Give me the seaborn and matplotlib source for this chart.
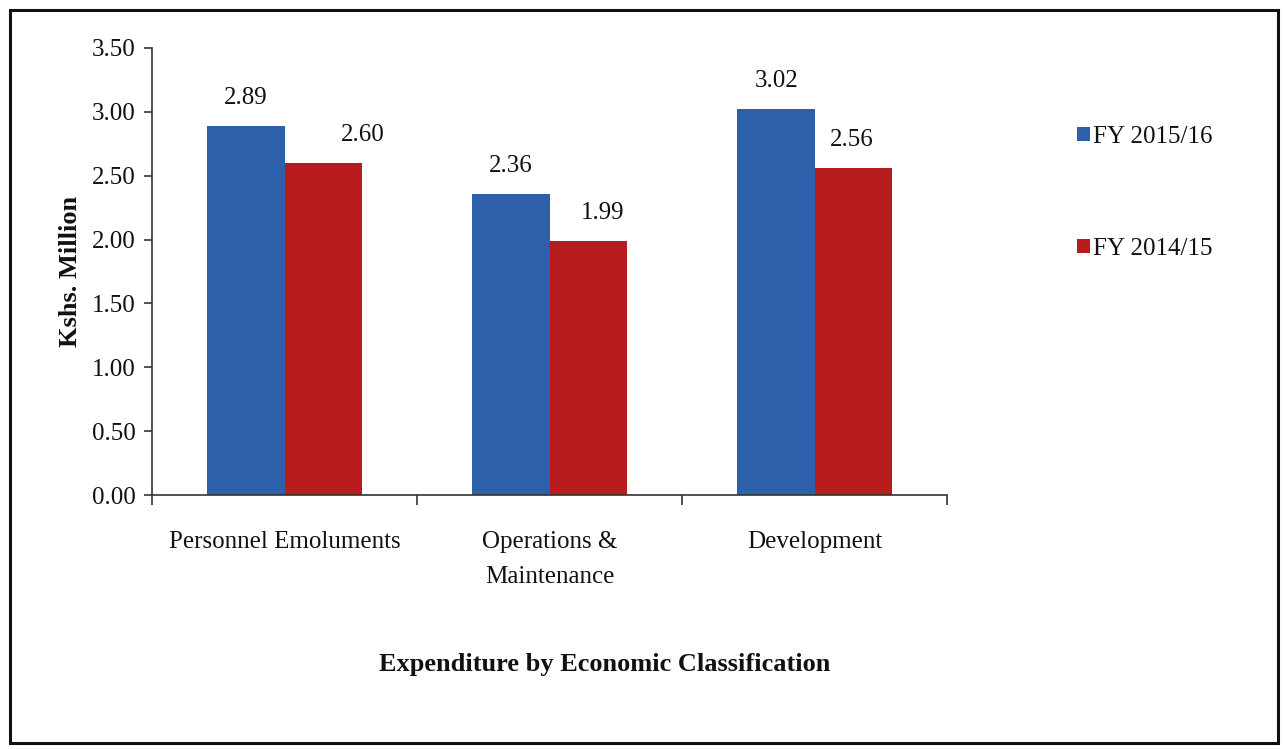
import pandas as pd
import matplotlib.pyplot as plt
import seaborn as sns
from matplotlib.patches import Patch, Rectangle

categories = ['Personnel Emoluments', 'Operations &\nMaintenance', 'Development']
fy_2015_16 = [2.89, 2.36, 3.02]
fy_2014_15 = [2.60, 1.99, 2.56]
series_names = ['FY 2015/16', 'FY 2014/15']
y_ticks = [0.0, 0.5, 1.0, 1.5, 2.0, 2.5, 3.0, 3.5]

colors = ['#2e5fab', '#b81c1e']

df = pd.DataFrame({
    'category': categories * 2,
    'value': fy_2015_16 + fy_2014_15,
    'series': [series_names[0]] * 3 + [series_names[1]] * 3,
})

sns.set_style('white')
plt.rcParams['font.family'] = ['Liberation Serif', 'DejaVu Serif']
plt.rcParams['text.color'] = '#111111'
plt.rcParams['axes.labelcolor'] = '#111111'
plt.rcParams['xtick.color'] = '#111111'
plt.rcParams['ytick.color'] = '#111111'

fig = plt.figure(figsize=(12.83, 7.49), dpi=100)
ax = fig.add_axes([0.1185, 0.339, 0.620, 0.597])

sns.barplot(data=df, x='category', y='value', hue='series', palette=colors,
            width=0.585, saturation=1, errorbar=None, legend=False, ax=ax,
            linewidth=0)

ax.set_xlim(-0.5, 2.5)
ax.set_ylim(0, 3.5)
ax.set_yticks(y_ticks)
ax.set_yticklabels([f'{t:.2f}' for t in y_ticks], fontsize=18)
ax.tick_params(axis='y', direction='out', length=6, width=1.2, color='#333333', left=True, pad=6)
ax.tick_params(axis='x', which='major', length=0, labelsize=18, pad=26)
for lbl in ax.get_xticklabels():
    lbl.set_linespacing(1.75)
ax.set_xticks([-0.5, 0.5, 1.5, 2.5], minor=True)
ax.tick_params(axis='x', which='minor', direction='out', length=7, width=1.2, color='#333333', bottom=True)
ax.set_xlabel('')
ax.set_ylabel('Kshs. Million', fontsize=19, fontweight='bold')
ax.yaxis.set_label_coords(-0.088, 0.5)

for s in ['top', 'right']:
    ax.spines[s].set_visible(False)
for s in ['left', 'bottom']:
    ax.spines[s].set_linewidth(1.2)
    ax.spines[s].set_color('#333333')

# value labels, red ones sit a bit off-centre in the original
label_dx = [[0, 0, 0], [39, 14, -2]]
for i, cont in enumerate(ax.containers):
    for j, bar in enumerate(cont):
        ax.annotate(f'{bar.get_height():.2f}',
                    (bar.get_x() + bar.get_width() / 2, bar.get_height()),
                    xytext=(label_dx[i][j] * 0.72, 20), textcoords='offset points',
                    ha='center', va='center', fontsize=18)

handles = [Patch(facecolor=c, edgecolor='none') for c in colors]
fig.legend(handles, series_names, loc='upper left', bbox_to_anchor=(0.822, 0.862),
           frameon=False, fontsize=18, handlelength=0.5, handleheight=0.5,
           handletextpad=0.15, labelspacing=3.6)

fig.text(0.471, 0.113, 'Expenditure by Economic Classification',
         ha='center', va='center', fontsize=19, fontweight='bold')

fig.patches.append(Rectangle((0.008, 0.008), 0.988, 0.978, transform=fig.transFigure,
                             fill=False, edgecolor='#111111', linewidth=2.2))

fig.savefig('out.png', dpi=100)
